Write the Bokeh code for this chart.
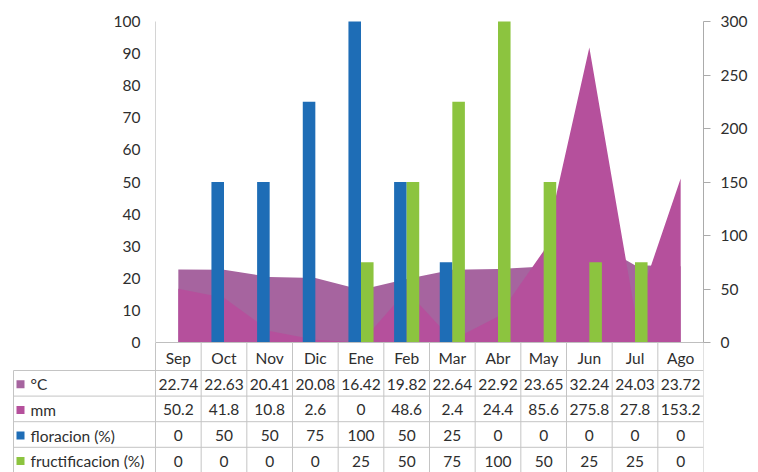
from bokeh.plotting import figure
from bokeh.models import Range1d, LinearAxis, FixedTicker
from bokeh.core.properties import value
from bokeh.embed import file_html
from bokeh.resources import INLINE

# ---------------- data ----------------
months = ["Sep", "Oct", "Nov", "Dic", "Ene", "Feb", "Mar", "Abr", "May", "Jun", "Jul", "Ago"]
temp_c = [22.74, 22.63, 20.41, 20.08, 16.42, 19.82, 22.64, 22.92, 23.65, 32.24, 24.03, 23.72]
rain_mm = [50.2, 41.8, 10.8, 2.6, 0, 48.6, 2.4, 24.4, 85.6, 275.8, 27.8, 153.2]
floracion = [0, 50, 50, 75, 100, 50, 25, 0, 0, 0, 0, 0]
fructificacion = [0, 0, 0, 0, 25, 50, 75, 100, 50, 25, 25, 0]
series_names = ["°C", "mm", "floracion (%)", "fructificacion (%)"]
left_ticks = [0, 10, 20, 30, 40, 50, 60, 70, 80, 90, 100]
right_ticks = [0, 50, 100, 150, 200, 250, 300]

# ---------------- style ----------------
C_TEMP = "#A6649F"
C_MM = "#B5509C"
C_FLOR = "#1E6DB6"
C_FRUC = "#8CC43F"
GRID = "#C4C4C4"
TXT = "#2E2E2E"
FONT = "Lato"
FS = "15.5px"
colors = [C_TEMP, C_MM, C_FLOR, C_FRUC]

W, H = 758, 472
OFF = 0
# page geometry (page pixels)
PLOT_LEFT, PLOT_RIGHT = 155.0, 703.0
Y0, Y100 = 342.0, 21.0
FRAME_L, FRAME_T = 10.0, 12.0
FRAME_R, FRAME_B = PLOT_RIGHT, OFF + H
n = len(months)
cat_w = (PLOT_RIGHT - PLOT_LEFT) / n
ppu = (Y0 - Y100) / 100.0

x_range = Range1d((FRAME_L - PLOT_LEFT) / cat_w, (FRAME_R - PLOT_LEFT) / cat_w)
y_range = Range1d((Y0 - FRAME_B) / ppu, (Y0 - FRAME_T) / ppu)

p = figure(width=W, height=H, x_range=x_range, y_range=y_range,
           output_backend="svg", toolbar_location=None,
           min_border_left=int(FRAME_L - OFF), min_border_right=int(OFF + W - FRAME_R),
           min_border_top=int(FRAME_T - OFF), min_border_bottom=0)
p.outline_line_color = None
p.xgrid.visible = False
p.ygrid.visible = False
p.xaxis.visible = False
p.background_fill_color = "white"
p.border_fill_color = "white"

p.extra_y_ranges = {
    "right": Range1d(y_range.start * 3, y_range.end * 3),
    "py": Range1d(FRAME_B, FRAME_T),
}
p.extra_x_ranges = {"px": Range1d(FRAME_L, FRAME_R)}

# left axis (fixed at x = 0)
ya = p.yaxis[0]
ya.fixed_location = 0
ya.bounds = (0, 100)
ya.ticker = FixedTicker(ticks=left_ticks)
ya.axis_line_color = "#D4D4D4"
ya.major_tick_line_color = None
ya.minor_tick_line_color = None
ya.major_label_standoff = 9
ya.major_label_text_font = FONT
ya.major_label_text_font_size = FS
ya.major_label_text_color = TXT

ra = LinearAxis(y_range_name="right", bounds=(0, 300), ticker=FixedTicker(ticks=right_ticks))
ra.axis_line_color = "#ABABAB"
ra.major_tick_line_color = "#ABABAB"
ra.major_tick_out = 7
ra.major_tick_in = 0
ra.minor_tick_line_color = None
ra.major_label_standoff = 10
ra.major_label_text_font = FONT
ra.major_label_text_font_size = FS
ra.major_label_text_color = TXT
p.add_layout(ra, "right")

# ---------------- chart marks ----------------
xc = [i + 0.5 for i in range(n)]
bw = 0.275
p.varea(x=xc, y1=[0] * n, y2=temp_c, fill_color=C_TEMP)
p.varea(x=xc, y1=[0] * n, y2=rain_mm, fill_color=C_MM, y_range_name="right")
p.vbar(x=[x - bw / 2 for x in xc], top=floracion, width=bw, bottom=0,
       fill_color=C_FLOR, line_color=None)
p.vbar(x=[x + bw / 2 for x in xc], top=fructificacion, width=bw, bottom=0,
       fill_color=C_FRUC, line_color=None)

# ---------------- data table ----------------
TBL_TOP = Y0
HDR_B = 370.0
ROW_H = 25.6
ROWS = len(series_names)
TBL_B = HDR_B + ROW_H * ROWS
FIRST_L = 13.0

# horizontal lines
p.segment(x0=[0], x1=[n], y0=[TBL_TOP], y1=[TBL_TOP], y_range_name="py",
          line_color="#BFBFBF", line_width=1)
hy = [HDR_B + ROW_H * r for r in range(ROWS + 1)]
p.segment(x0=[FIRST_L] * len(hy), x1=[PLOT_RIGHT] * len(hy), y0=hy, y1=hy,
          x_range_name="px", y_range_name="py", line_color=GRID, line_width=1)
# vertical lines
vx = list(range(n + 1))
p.segment(x0=vx, x1=vx, y0=[TBL_TOP] * len(vx), y1=[TBL_B] * len(vx),
          y_range_name="py", line_color=GRID, line_width=1)
p.segment(x0=[FIRST_L], x1=[FIRST_L], y0=[HDR_B], y1=[TBL_B],
          x_range_name="px", y_range_name="py", line_color=GRID, line_width=1)

# header labels
p.text(x=xc, y=[(TBL_TOP + HDR_B) / 2 + 1] * n, text=months, y_range_name="py",
       text_align="center", text_baseline="middle", text_font=value(FONT),
       text_font_size=FS, text_color=TXT)

rows_vals = [
    [f"{v:.2f}" for v in temp_c],
    [f"{v:g}" for v in rain_mm],
    [f"{v:g}" for v in floracion],
    [f"{v:g}" for v in fructificacion],
]
for r, vals in enumerate(rows_vals):
    yc = HDR_B + ROW_H * (r + 0.5) + 1
    p.text(x=xc, y=[yc] * n, text=vals, y_range_name="py",
           text_align="center", text_baseline="middle", text_font=value(FONT),
           text_font_size=FS, text_color=TXT)

row_y = [HDR_B + ROW_H * (r + 0.5) + 1 for r in range(ROWS)]
p.rect(x=[20] * ROWS, y=row_y, width=8, height=8, x_range_name="px", y_range_name="py",
       fill_color=colors, line_color=None)
p.text(x=[30] * ROWS, y=row_y, text=series_names, x_range_name="px", y_range_name="py",
       text_align="left", text_baseline="middle", text_font=value(FONT),
       text_font_size=FS, text_color=TXT)

open("out.html", "w").write(file_html(p, INLINE))
